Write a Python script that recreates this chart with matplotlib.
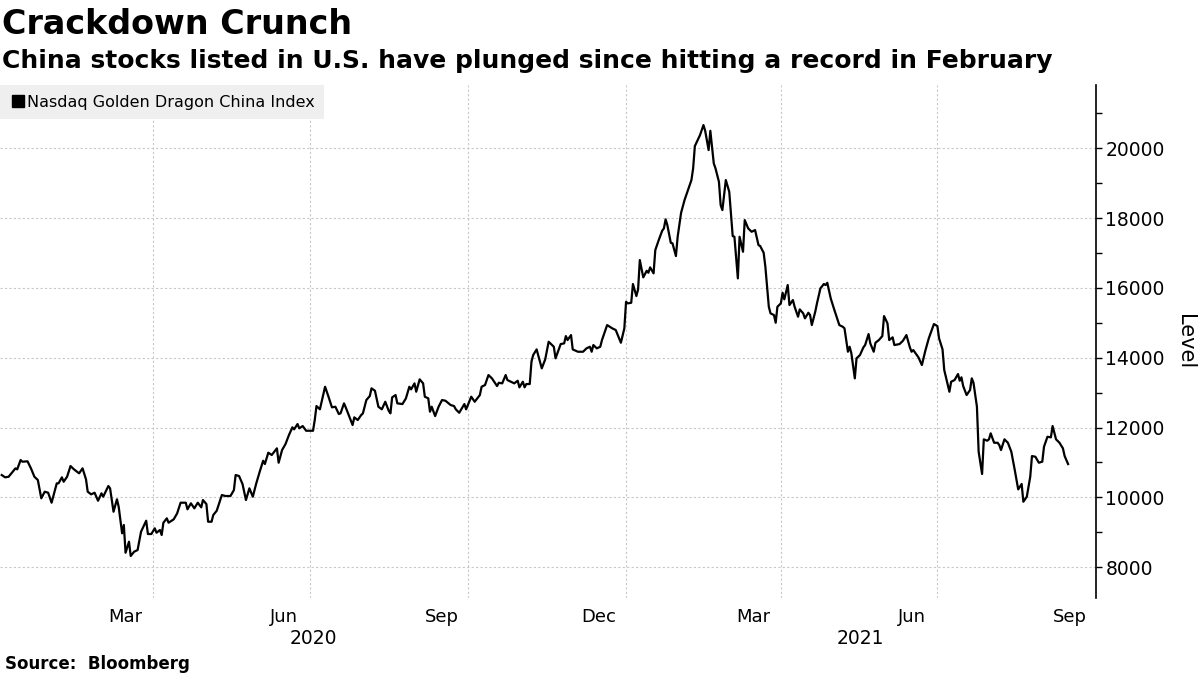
import numpy as np
import matplotlib
matplotlib.use('agg')
import matplotlib.pyplot as plt
import matplotlib.dates as mdates
import matplotlib.transforms as mtransforms
from matplotlib.lines import Line2D

# Nasdaq Golden Dragon China Index
# day = days since 2020-01-01
day = [3, 5, 7, 11, 12, 14, 15, 18, 20, 22, 24, 26, 28, 30, 32, 35, 36, 38, 39, 41,
       43, 45, 48, 50, 52, 53, 55, 57, 59, 61, 62, 65, 66, 68, 70, 71, 73, 74, 75, 77,
       78, 80, 82, 84, 87, 88, 90, 92, 93, 95, 96, 97, 99, 100, 103, 105, 107, 110, 111, 113,
       115, 117, 119, 120, 122, 123, 125, 126, 128, 131, 133, 136, 138, 139, 141, 143, 145, 147, 149, 151,
       153, 155, 156, 158, 160, 163, 164, 166, 168, 170, 172, 173, 175, 176, 178, 180, 184, 185, 186, 188,
       191, 193, 195, 197, 199, 200, 202, 203, 205, 207, 208, 210, 212, 213, 215, 217, 218, 220, 222, 224,
       226, 228, 229, 230, 232, 233, 236, 238, 240, 241, 243, 244, 246, 248, 249, 251, 252, 253, 255, 257,
       259, 261, 264, 266, 267, 269, 272, 273, 276, 278, 281, 282, 284, 286, 288, 291, 292, 294, 296, 297,
       299, 301, 303, 304, 306, 307, 308, 310, 311, 312, 314, 317, 319, 321, 324, 325, 328, 330, 331, 332,
       334, 335, 338, 341, 343, 345, 346, 347, 349, 351, 352, 355, 358, 360, 363, 365, 366, 367, 369, 370,
       372, 373, 374, 376, 378, 379, 380, 382, 383, 385, 387, 388, 389, 390, 392, 393, 395, 396, 398, 400,
       402, 404, 405, 406, 409, 411, 412, 414, 415, 417, 418, 420, 421, 422, 424, 426, 427, 428, 429, 431,
       432, 434, 435, 437, 439, 441, 443, 444, 446, 447, 449, 450, 452, 453, 454, 456, 457, 458, 460, 461,
       463, 464, 466, 467, 469, 470, 472, 473, 474, 476, 477, 479, 481, 482, 483, 485, 487, 490, 492, 493,
       495, 496, 497, 499, 500, 502, 504, 505, 507, 508, 510, 511, 513, 515, 516, 518, 519, 521, 522, 525,
       527, 529, 531, 532, 533, 536, 538, 540, 542, 545, 547, 548, 550, 551, 554, 555, 557, 559, 560, 561,
       562, 564, 566, 567, 568, 570, 571, 573, 574, 576, 577, 578, 580, 582, 583, 584, 586, 588, 590, 592,
       594, 596, 597, 599, 601, 602, 604, 606, 608, 609, 611, 613, 614, 616, 618, 620, 621, 623]
level = [10640, 10574, 10591, 10832, 10803, 11070, 11022, 11033, 10832, 10591, 10497, 9973, 10162, 10133, 9847, 10402, 10402, 10574, 10448, 10591,
         10898, 10803, 10689, 10832, 10517, 10162, 10087, 10133, 9904, 10116, 10019, 10325, 10259, 9589, 9944, 9732, 8970, 9208, 8414, 8730,
         8320, 8443, 8491, 9016, 9331, 8950, 8950, 9113, 8987, 9065, 8921, 9274, 9399, 9274, 9371, 9543, 9847, 9847, 9658, 9830,
         9686, 9847, 9714, 9924, 9809, 9302, 9302, 9494, 9617, 10067, 10039, 10039, 10210, 10640, 10612, 10382, 9924, 10259, 10019, 10402,
         10735, 11050, 10956, 11280, 11214, 11405, 10993, 11356, 11528, 11786, 12007, 11949, 12101, 11978, 12044, 11909, 11909, 12216, 12617, 12523,
         13170, 12884, 12580, 12597, 12388, 12408, 12694, 12580, 12330, 12073, 12293, 12216, 12359, 12408, 12789, 12904, 13124, 13055, 12597, 12523,
         12740, 12482, 12408, 12866, 12932, 12694, 12674, 12837, 13170, 13095, 13267, 13027, 13382, 13267, 12884, 12837, 12454, 12597, 12330, 12597,
         12789, 12769, 12646, 12617, 12523, 12425, 12674, 12523, 12884, 12740, 12932, 13170, 13219, 13505, 13411, 13190, 13284, 13267, 13505, 13362,
         13313, 13267, 13342, 13153, 13313, 13153, 13247, 13247, 13886, 14078, 14240, 13697, 13955, 14459, 14316, 13984, 14393, 14413, 14622, 14508,
         14651, 14240, 14173, 14173, 14270, 14316, 14173, 14365, 14270, 14316, 14508, 14937, 14843, 14795, 14431, 14843, 15605, 15559, 15576, 16113,
         15769, 15960, 16800, 16304, 16493, 16436, 16591, 16419, 17087, 17373, 17639, 17708, 17966, 17803, 17296, 17279, 16915, 17468, 18155, 18519,
         18806, 19092, 19427, 20066, 20381, 20668, 20504, 19952, 20504, 19570, 19427, 19043, 18376, 18232, 19092, 18757, 18138, 17488, 17468, 16275,
         17468, 17038, 17946, 17708, 17611, 17660, 17230, 17201, 17009, 16608, 15462, 15273, 15224, 15004, 15462, 15559, 15863, 15674, 16084, 15511,
         15654, 15462, 15176, 15387, 15273, 15130, 15290, 15224, 14937, 15319, 15559, 15989, 16113, 16084, 16149, 15702, 15387, 14937, 14889, 14843,
         14173, 14316, 14126, 13410, 13984, 14078, 14299, 14365, 14680, 14413, 14173, 14431, 14508, 14622, 15195, 14986, 14508, 14586, 14365, 14393,
         14488, 14651, 14299, 14173, 14221, 14012, 13792, 14201, 14556, 14967, 14909, 14556, 14241, 13648, 13027, 13313, 13362, 13534, 13342, 13440,
         13190, 12932, 13076, 13410, 13284, 12597, 11308, 10669, 11663, 11623, 11663, 11835, 11565, 11565, 11500, 11356, 11663, 11565, 11308, 10783,
         10229, 10383, 9875, 10019, 10591, 11184, 11164, 10993, 11022, 11452, 11737, 11720, 12044, 11663, 11565, 11405, 11184, 10955]

series_name = 'Nasdaq Golden Dragon China Index'
y_ticks = [8000, 10000, 12000, 14000, 16000, 18000, 20000]
quarter_starts = ['2020-04-01', '2020-07-01', '2020-10-01', '2021-01-01', '2021-04-01', '2021-07-01', '2021-10-01']
month_labels = ['2020-03-16', '2020-06-16', '2020-09-16', '2020-12-16', '2021-03-16', '2021-06-16', '2021-09-16']
year_labels = ['2020', '2021']
year_pos = ['2020-07-03', '2021-05-17']

dates = np.datetime64('2020-01-01') + np.array(day).astype('timedelta64[D]')

fig = plt.figure(figsize=(12, 6.75), dpi=100)
ax = fig.add_axes([0.0, 0.114, 0.913, 0.760])

ax.plot(dates, level, color='black', lw=1.6, zorder=3)

ax.set_xlim(np.datetime64('2020-01-03'), np.datetime64('2021-10-01'))
ax.set_ylim(7115, 21815)

# grid at quarter starts, labels in mid month
ax.set_xticks([mdates.datestr2num(d) for d in quarter_starts])
ax.set_xticklabels([])
ax.set_xticks([mdates.datestr2num(d) for d in month_labels], minor=True)
ax.set_xticklabels([np.datetime64(d).astype(object).strftime('%b') for d in month_labels], minor=True)
ax.tick_params(axis='x', which='both', length=0, labelsize=13, pad=7)
ax.grid(axis='x', which='major', color='#c8c8c8', linestyle=(0, (2, 2)), lw=0.8)

ax.yaxis.tick_right()
ax.set_yticks(y_ticks)
ax.set_yticks(np.arange(9000, 22000, 2000), minor=True)
ax.tick_params(axis='y', which='both', direction='out', length=4, width=1, labelsize=13.5, pad=3)
ax.grid(axis='y', which='major', color='#c8c8c8', linestyle=(0, (2, 2)), lw=0.8)
ax.yaxis.set_label_position('right')
ax.set_ylabel('Level', rotation=270, fontsize=15, labelpad=22)

for s in ['left', 'top', 'bottom']:
    ax.spines[s].set_visible(False)
ax.spines['right'].set_linewidth(1.2)

trans = mtransforms.blended_transform_factory(ax.transData, ax.transAxes)
for lab, pos in zip(year_labels, year_pos):
    ax.text(mdates.datestr2num(pos), -0.078, lab, transform=trans, ha='center', va='center', fontsize=13.5)

handle = Line2D([], [], marker='s', color='black', ls='none', markersize=8)
leg = ax.legend([handle], [series_name], loc='upper left', bbox_to_anchor=(0, 1), borderaxespad=0,
                fontsize=11.5, frameon=True, fancybox=False, handletextpad=0.1, handlelength=1.0,
                borderpad=0.6, facecolor='#efefef', edgecolor='none', framealpha=1)

fig.text(0.002, 0.963, 'Crackdown Crunch', fontsize=24, fontweight='bold', va='center')
fig.text(0.002, 0.910, 'China stocks listed in U.S. have plunged since hitting a record in February',
         fontsize=18, fontweight='bold', va='center')
fig.text(0.004, 0.017, 'Source:  Bloomberg', fontsize=12, fontweight='bold', va='center')

fig.savefig('out.png', dpi=100)
